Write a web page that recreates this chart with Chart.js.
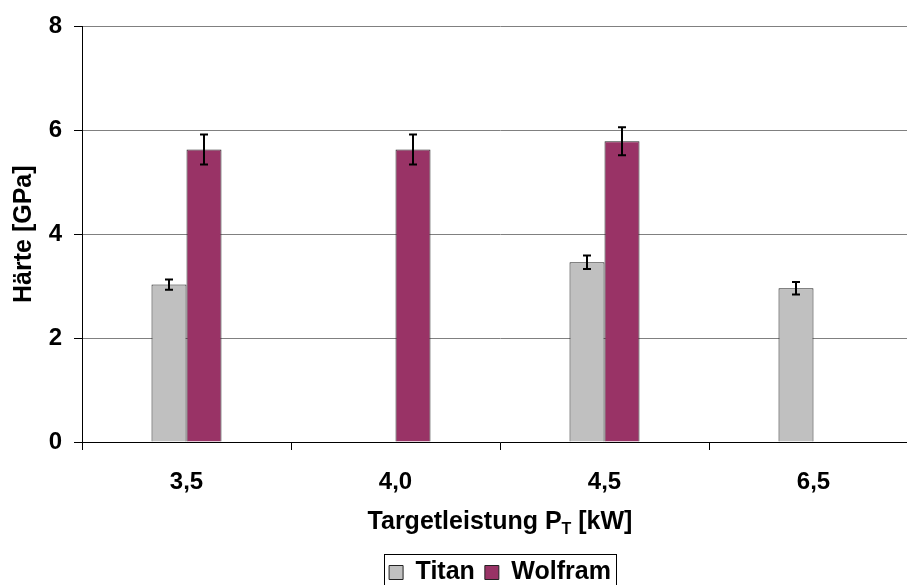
<!DOCTYPE html>
<html lang="de">
<head>
  <meta charset="UTF-8" />
  <title>Härte über Targetleistung</title>
  <script src="https://cdn.jsdelivr.net/npm/chart.js"></script>
  <style>
    html, body {
      margin: 0;
      padding: 0;
      background: #fff;
    }
    #frame {
      width: 907px;
      height: 585px;
      overflow: hidden;
      position: relative;
    }
    #chart {
      display: block;
    }
  </style>
  <script>
    // Werte
    const categories = ["3,5", "4,0", "4,5", "6,5"];
    const titan = [3.03, null, 3.46, 2.96];
    const titanErr = [0.10, null, 0.13, 0.12];
    const wolfram = [5.63, 5.63, 5.79, null];
    const wolframErr = [0.29, 0.29, 0.27, null];
    const yTicks = [0, 2, 4, 6, 8];

    const FONT = "'Liberation Sans', Arial, sans-serif";

    // Fehlerbalken über den Balken
    const errorBars = {
      id: "errorBars",
      afterDatasetsDraw(chart) {
        const ctx = chart.ctx;
        const y = chart.scales.y;
        const errs = [titanErr, wolframErr];
        ctx.save();
        ctx.strokeStyle = "#000";
        ctx.lineWidth = 2;
        chart.data.datasets.forEach((ds, d) => {
          const meta = chart.getDatasetMeta(d);
          meta.data.forEach((bar, i) => {
            const v = ds.data[i];
            const e = errs[d][i];
            if (v == null || e == null) return;
            const yHi = y.getPixelForValue(v + e);
            const yLo = y.getPixelForValue(v - e);
            const x = Math.round(bar.x);
            ctx.beginPath();
            ctx.moveTo(x, yHi);
            ctx.lineTo(x, yLo);
            ctx.moveTo(x - 4, yHi);
            ctx.lineTo(x + 4, yHi);
            ctx.moveTo(x - 4, yLo);
            ctx.lineTo(x + 4, yLo);
            ctx.stroke();
          });
        });
        ctx.restore();
      }
    };

    // Legende unter die Mitte der Zeichenfläche schieben
    const centerLegend = {
      id: "centerLegend",
      afterLayout(chart) {
        const lg = chart.legend;
        const area = chart.chartArea;
        if (!lg) return;
        const shift = (area.left + area.right) / 2 - (lg.left + lg.right) / 2;
        lg.left += shift;
        lg.right += shift;
        if (lg.adjustHitBoxes) lg.adjustHitBoxes();
      }
    };

    // x-Achsentitel mit tiefgestelltem T, Rahmen um die Legende
    const extras = {
      id: "extras",
      afterDraw(chart) {
        const ctx = chart.ctx;
        const area = chart.chartArea;
        ctx.save();
        ctx.fillStyle = "#000";
        ctx.textBaseline = "middle";
        const big = "bold 25px " + FONT;
        const small = "bold 16px " + FONT;
        const partA = "Targetleistung P";
        const partB = "T";
        const partC = " [kW]";
        ctx.font = big;
        const wA = ctx.measureText(partA).width;
        const wC = ctx.measureText(partC).width;
        ctx.font = small;
        const wB = ctx.measureText(partB).width;
        const total = wA + wB + wC;
        let x = (area.left + area.right) / 2 - total / 2;
        const yMid = 522;
        ctx.textAlign = "left";
        ctx.font = big;
        ctx.fillText(partA, x, yMid);
        x += wA;
        ctx.font = small;
        ctx.fillText(partB, x, yMid + 8);
        x += wB;
        ctx.font = big;
        ctx.fillText(partC, x, yMid);

        const lg = chart.legend;
        if (lg && lg.legendHitBoxes && lg.legendHitBoxes.length) {
          const boxes = lg.legendHitBoxes;
          const l = boxes[0].left - 5;
          const last = boxes[boxes.length - 1];
          const r = last.left + last.width + 5;
          ctx.strokeStyle = "#000";
          ctx.lineWidth = 1;
          ctx.strokeRect(Math.round(l) + 0.5, Math.round(lg.top + 4) + 0.5, Math.round(r - l), 60);
        }
        ctx.restore();
      }
    };

    window.onload = () => {
      const ctx = document.getElementById("chart").getContext("2d");
      new Chart(ctx, {
        type: "bar",
        data: {
          labels: categories,
          datasets: [
            {
              label: "Titan",
              data: titan,
              backgroundColor: "#C0C0C0",
              borderColor: "#222",
              borderWidth: 1,
              categoryPercentage: 0.335,
              barPercentage: 1.0
            },
            {
              label: "Wolfram",
              data: wolfram,
              backgroundColor: "#993366",
              borderColor: "#222",
              borderWidth: 1,
              categoryPercentage: 0.335,
              barPercentage: 1.0
            }
          ]
        },
        options: {
          responsive: false,
          animation: false,
          layout: {
            padding: { left: 0, right: 82, top: 24, bottom: 5 }
          },
          plugins: {
            tooltip: { enabled: false },
            legend: {
              position: "bottom",
              labels: {
                color: "#000",
                font: { family: FONT, size: 25, weight: "bold" },
                boxWidth: 14,
                boxHeight: 14,
                padding: 10
              }
            }
          },
          scales: {
            x: {
              grid: {
                drawOnChartArea: false,
                drawTicks: true,
                tickLength: 8,
                tickColor: "#000"
              },
              border: { color: "#000", width: 1 },
              ticks: {
                color: "#000",
                padding: 18,
                font: { family: FONT, size: 24, weight: "bold" }
              },
              afterFit(scale) {
                scale.height = 108;
              }
            },
            y: {
              min: 0,
              max: 8,
              afterBuildTicks(scale) {
                scale.ticks = yTicks.map(v => ({ value: v }));
              },
              grid: {
                color: "#808080",
                tickColor: "#000",
                tickLength: 8,
                lineWidth: 1
              },
              border: { color: "#000", width: 1 },
              ticks: {
                color: "#000",
                padding: 12,
                font: { family: FONT, size: 24, weight: "bold" }
              },
              title: {
                display: true,
                text: "Härte [GPa]",
                color: "#000",
                font: { family: FONT, size: 25, weight: "bold" },
                padding: { top: 9, bottom: 0 }
              },
              afterFit(scale) {
                scale.width = 82;
              }
            }
          }
        },
        plugins: [errorBars, centerLegend, extras]
      });
    };
  </script>
</head>
<body>
  <div id="frame">
    <canvas id="chart" width="1000" height="600"></canvas>
  </div>
</body>
</html>
